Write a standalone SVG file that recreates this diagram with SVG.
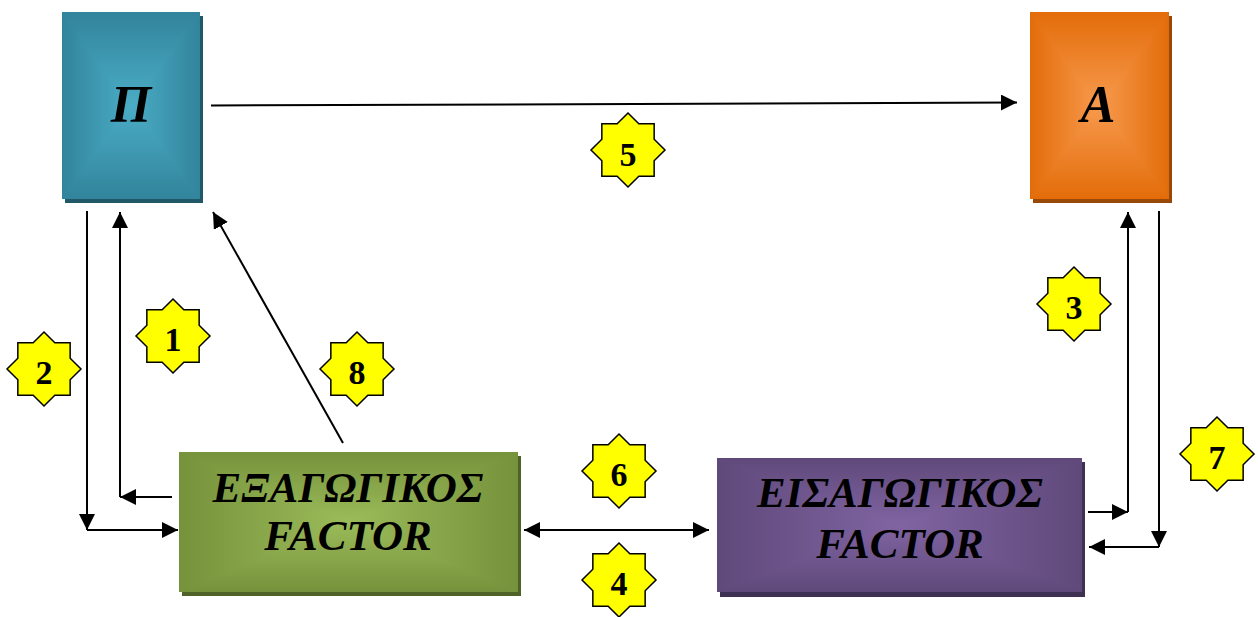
<svg xmlns="http://www.w3.org/2000/svg" xmlns:xlink="http://www.w3.org/1999/xlink" width="1258" height="617" viewBox="0 0 1258 617">
<style>
.box-text{font-family:"Liberation Serif","Times New Roman",serif;font-weight:bold;font-style:italic;fill:#000;text-anchor:middle}
.num{font-family:"Liberation Serif","Times New Roman",serif;font-weight:bold;font-size:34px;fill:#000;text-anchor:middle}
.star{fill:#FFFF00;stroke:#000;stroke-width:1.5;stroke-linejoin:miter}
.conn{fill:none;stroke:#000;stroke-width:2}
</style>
<defs>
<marker id="ah" markerUnits="userSpaceOnUse" markerWidth="16" markerHeight="16" refX="15" refY="7.5" orient="auto-start-reverse" viewBox="0 0 15 15">
<path d="M0,0 L15,7.5 L0,15 z" fill="#000"/>
</marker>
<polygon id="starShape" class="star" points="0,-37 10.83,-26.15 26.16,-26.16 26.15,-10.83 37,0 26.15,10.83 26.16,26.16 10.83,26.15 0,37 -10.83,26.15 -26.16,26.16 -26.15,10.83 -37,0 -26.15,-10.83 -26.16,-26.16 -10.83,-26.15"/>
<linearGradient id="tealV" x1="0" y1="0" x2="0" y2="1"><stop offset="0" stop-color="#31849B"/><stop offset="0.5" stop-color="#4BACC6"/><stop offset="1" stop-color="#31849B"/></linearGradient>
<linearGradient id="tealH" x1="0" y1="0" x2="1" y2="0"><stop offset="0" stop-color="#31849B"/><stop offset="0.5" stop-color="#4BACC6"/><stop offset="1" stop-color="#31849B"/></linearGradient>
<linearGradient id="orV" x1="0" y1="0" x2="0" y2="1"><stop offset="0" stop-color="#E36C09"/><stop offset="0.5" stop-color="#F79A4E"/><stop offset="1" stop-color="#E36C09"/></linearGradient>
<linearGradient id="orH" x1="0" y1="0" x2="1" y2="0"><stop offset="0" stop-color="#E36C09"/><stop offset="0.5" stop-color="#F79A4E"/><stop offset="1" stop-color="#E36C09"/></linearGradient>
<linearGradient id="grV" x1="0" y1="0" x2="0" y2="1"><stop offset="0" stop-color="#76923C"/><stop offset="0.5" stop-color="#9BBB59"/><stop offset="1" stop-color="#76923C"/></linearGradient>
<linearGradient id="grH" x1="0" y1="0" x2="1" y2="0"><stop offset="0" stop-color="#76923C"/><stop offset="0.5" stop-color="#9BBB59"/><stop offset="1" stop-color="#76923C"/></linearGradient>
<linearGradient id="puV" x1="0" y1="0" x2="0" y2="1"><stop offset="0" stop-color="#5F497A"/><stop offset="0.5" stop-color="#8064A2"/><stop offset="1" stop-color="#5F497A"/></linearGradient>
<linearGradient id="puH" x1="0" y1="0" x2="1" y2="0"><stop offset="0" stop-color="#5F497A"/><stop offset="0.5" stop-color="#8064A2"/><stop offset="1" stop-color="#5F497A"/></linearGradient>
</defs>
<rect width="1258" height="617" fill="#fff"/>

<g id="node-P">
<rect x="65" y="16" width="138" height="187" fill="#215868"/>
<rect x="62" y="12" width="138" height="187" fill="url(#tealV)"/>
<path d="M62,12 L131,105.5 L62,199 z M200,12 L131,105.5 L200,199 z" fill="url(#tealH)"/>
<text class="box-text" x="131" y="122" font-size="52">Π</text>
</g>

<g id="node-A">
<rect x="1033" y="16" width="139" height="187" fill="#984807"/>
<rect x="1030" y="12" width="139" height="187" fill="url(#orV)"/>
<path d="M1030,12 L1099.5,105.5 L1030,199 z M1169,12 L1099.5,105.5 L1169,199 z" fill="url(#orH)"/>
<text class="box-text" x="1098" y="122" font-size="52">A</text>
</g>

<g id="node-export">
<rect x="182" y="456" width="339" height="140" fill="#4F6228"/>
<rect x="179" y="452" width="339" height="140" fill="url(#grV)"/>
<path d="M179,452 L348.5,522 L179,592 z M518,452 L348.5,522 L518,592 z" fill="url(#grH)"/>
<text class="box-text" x="348" y="502" font-size="43">ΕΞΑΓΩΓΙΚΟΣ</text>
<text class="box-text" x="348" y="550" font-size="43">FACTOR</text>
</g>

<g id="node-import">
<rect x="720" y="462" width="365" height="135" fill="#3F3151"/>
<rect x="717" y="458" width="365" height="134" fill="url(#puV)"/>
<path d="M717,458 L899.5,525 L717,592 z M1082,458 L899.5,525 L1082,592 z" fill="url(#puH)"/>
<text class="box-text" x="900" y="507" font-size="43">ΕΙΣΑΓΩΓΙΚΟΣ</text>
<text class="box-text" x="900" y="558" font-size="43">FACTOR</text>
</g>

<g id="connectors">
<path class="conn" d="M211,105.5 L1017,102.5" marker-end="url(#ah)"/>
<path class="conn" d="M87,211 V530" marker-end="url(#ah)"/>
<path class="conn" d="M87,530 H178" marker-end="url(#ah)"/>
<path class="conn" d="M172,497 H120" marker-end="url(#ah)"/>
<path class="conn" d="M120,497 V212" marker-end="url(#ah)"/>
<path class="conn" d="M343,443 L213,212" marker-end="url(#ah)"/>
<path class="conn" d="M524,530 H709" marker-start="url(#ah)" marker-end="url(#ah)"/>
<path class="conn" d="M1088,512 H1128" marker-end="url(#ah)"/>
<path class="conn" d="M1128,512 V212" marker-end="url(#ah)"/>
<path class="conn" d="M1159,211 V547" marker-end="url(#ah)"/>
<path class="conn" d="M1159,547 H1089" marker-end="url(#ah)"/>
</g>

<g id="badge-1"><use xlink:href="#starShape" href="#starShape" x="173" y="336"/><text class="num" x="173" y="351">1</text></g>
<g id="badge-2"><use xlink:href="#starShape" href="#starShape" x="44" y="369"/><text class="num" x="44" y="384">2</text></g>
<g id="badge-3"><use xlink:href="#starShape" href="#starShape" x="1074" y="304"/><text class="num" x="1074" y="319">3</text></g>
<g id="badge-4"><use xlink:href="#starShape" href="#starShape" x="619" y="580"/><text class="num" x="619" y="595">4</text></g>
<g id="badge-5"><use xlink:href="#starShape" href="#starShape" x="628" y="150"/><text class="num" x="628" y="166">5</text></g>
<g id="badge-6"><use xlink:href="#starShape" href="#starShape" x="619" y="471"/><text class="num" x="619" y="486">6</text></g>
<g id="badge-7"><use xlink:href="#starShape" href="#starShape" x="1217" y="454"/><text class="num" x="1217" y="469">7</text></g>
<g id="badge-8"><use xlink:href="#starShape" href="#starShape" x="357" y="369"/><text class="num" x="357" y="384">8</text></g>
</svg>
